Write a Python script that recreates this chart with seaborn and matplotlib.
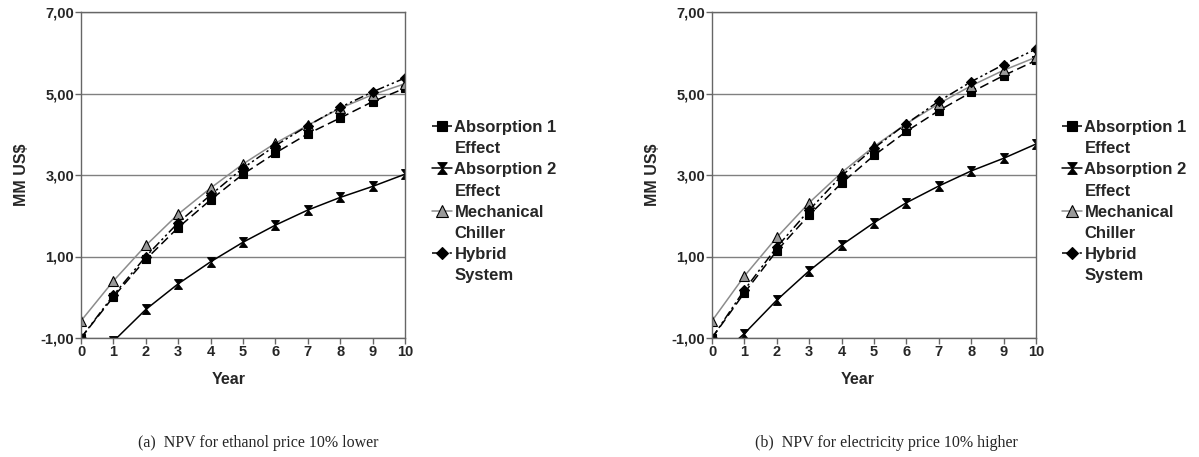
import numpy as np
import pandas as pd
import matplotlib
matplotlib.use("Agg")
import matplotlib.pyplot as plt
import matplotlib.path as mpath
import matplotlib.patches as mpatches
import seaborn as sns

years = list(range(0, 11))
series_names = ["Absorption 1\nEffect", "Absorption 2\nEffect", "Mechanical\nChiller", "Hybrid\nSystem"]

# (a) NPV for ethanol price 10% lower
a_abs1 = [-1.00, 0.01, 0.93, 1.71, 2.39, 3.02, 3.54, 4.01, 4.40, 4.80, 5.13]
a_abs2 = [-1.60, -1.08, -0.30, 0.33, 0.87, 1.35, 1.77, 2.14, 2.45, 2.72, 3.02]
a_mech = [-0.58, 0.40, 1.27, 2.04, 2.68, 3.27, 3.78, 4.22, 4.64, 4.97, 5.24]
a_hyb = [-1.00, 0.05, 1.00, 1.83, 2.51, 3.17, 3.72, 4.21, 4.66, 5.04, 5.38]

# (b) NPV for electricity price 10% higher
b_abs1 = [-1.00, 0.11, 1.14, 2.02, 2.80, 3.48, 4.07, 4.58, 5.03, 5.44, 5.81]
b_abs2 = [-1.60, -0.89, -0.07, 0.65, 1.28, 1.83, 2.32, 2.73, 3.10, 3.41, 3.76]
b_mech = [-0.58, 0.52, 1.47, 2.32, 3.06, 3.70, 4.26, 4.75, 5.19, 5.57, 5.89]
b_hyb = [-1.00, 0.18, 1.23, 2.14, 2.98, 3.66, 4.26, 4.81, 5.29, 5.71, 6.09]

y_ticks = [-1, 1, 3, 5, 7]
y_ticklabels = ["-1,00", "1,00", "3,00", "5,00", "7,00"]
captions = ["(a)  NPV for ethanol price 10% lower", "(b)  NPV for electricity price 10% higher"]

sns.set_theme(style="white")
plt.rcParams["font.family"] = ["Liberation Sans", "DejaVu Sans"]

hourglass = mpath.Path([(-0.8, 1), (0.8, 1), (-0.8, -1), (0.8, -1), (-0.8, 1)],
                       [1, 2, 2, 2, 79])

styles = [
    dict(color="black", marker="s", ms=6, mfc="black", mec="black", ls=(0, (6, 3))),
    dict(color="black", marker=hourglass, ms=7, mfc="black", mec="black", ls="-"),
    dict(color="#8c8c8c", marker="^", ms=7, mfc="#999999", mec="black", ls="-"),
    dict(color="black", marker="D", ms=5, mfc="black", mec="black", ls=(0, (6, 2, 1.5, 2, 1.5, 2))),
]

fig = plt.figure(figsize=(11.99, 4.57), dpi=100)
W, H = 1199, 457
axes_px = [(81, 405), (712, 1036)]
top_px, bot_px = 12, 338
data_sets = [[a_abs1, a_abs2, a_mech, a_hyb], [b_abs1, b_abs2, b_mech, b_hyb]]
legend_x = [432, 1062]
year_x = [229, 858]
cap_x = [138, 755]

for i, (x0, x1) in enumerate(axes_px):
    ax = fig.add_axes([x0 / W, (H - bot_px) / H, (x1 - x0) / W, (bot_px - top_px) / H])
    for name, vals, st in zip(series_names, data_sets[i], styles):
        df = pd.DataFrame({"Year": years, "NPV": vals})
        sns.lineplot(data=df, x="Year", y="NPV", ax=ax, color=st["color"],
                     marker=st["marker"], markersize=st["ms"],
                     markerfacecolor=st["mfc"], markeredgecolor=st["mec"],
                     markeredgewidth=0.8, linewidth=1.1, linestyle=st["ls"],
                     label=name, clip_on=True)
    ax.set_xlim(0, 10)
    ax.set_ylim(-1, 7)
    ax.set_xticks(years)
    ax.set_xticklabels([str(y) for y in years], fontsize=10.5, fontweight="bold")
    ax.set_yticks(y_ticks)
    ax.set_yticklabels(y_ticklabels, fontsize=10.5, fontweight="bold")
    ax.yaxis.grid(True, color="#808080", linewidth=1.0)
    ax.xaxis.grid(False)
    for s in ax.spines.values():
        s.set_color("#666666")
        s.set_linewidth(1.0)
    ax.tick_params(axis="both", which="major", length=4, width=1, color="#666666",
                   direction="out", pad=1, left=True, bottom=True)
    ax.set_xlabel("")
    ax.set_ylabel("MM US$", fontsize=11.5, fontweight="bold", labelpad=8)
    fig.text(year_x[i] / W, 1 - 379 / H, "Year", ha="center", va="center",
             fontsize=11.5, fontweight="bold")
    fig.text(cap_x[i] / W, 1 - 443 / H, captions[i], ha="left", va="center",
             fontsize=11.5, family=["Liberation Serif", "DejaVu Serif"])
    handles, labels = ax.get_legend_handles_labels()
    # Excel-style legend: marker aligned with the first line of each label
    rows_h, rows_l = [], []
    for h, l in zip(handles, labels):
        first, second = l.split("\n")
        rows_h += [h, mpatches.Rectangle((0, 0), 1, 1, visible=False)]
        rows_l += [first, second]
    ax.legend(rows_h, rows_l, loc="upper left",
              bbox_to_anchor=(legend_x[i] / W, 1 - 120 / H),
              bbox_transform=fig.transFigure, frameon=False,
              prop={"size": 12, "weight": "bold"}, handlelength=1.2,
              handletextpad=0.15, labelspacing=0.37, borderpad=0, borderaxespad=0,
              markerscale=1.2)

fig.savefig("out.png", dpi=100)
